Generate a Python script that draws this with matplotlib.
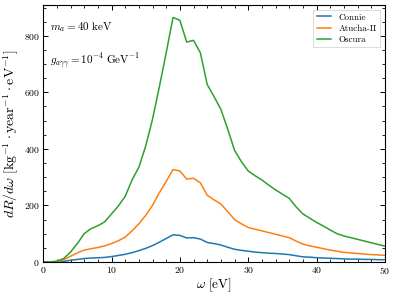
import matplotlib
matplotlib.use("Agg")
import matplotlib.pyplot as plt
from matplotlib.ticker import MultipleLocator

plt.rcParams['mathtext.fontset'] = 'cm'
plt.rcParams['font.family'] = 'serif'
plt.rcParams['font.serif'] = ['cmr10', 'DejaVu Serif']
plt.rcParams['axes.formatter.use_mathtext'] = True

omega = list(range(0, 51))
connie = [0, 0, 0, 2, 6, 9, 12, 14, 15, 16, 19, 23, 27, 33, 40, 48, 58, 70, 83, 96,
          94, 85, 86, 81, 69, 65, 60, 52, 45, 41, 38, 35, 33, 31, 30, 28, 26, 22, 18, 17,
          15, 14, 13, 12, 11, 10, 10, 9, 9, 8, 8]
atucha = [0, 0, 1, 8, 20, 32, 42, 47, 51, 57, 65, 75, 88, 110, 135, 165, 200, 245, 285, 327,
          322, 293, 296, 280, 236, 220, 205, 178, 150, 135, 122, 116, 110, 104, 98, 92, 86, 74, 63, 57,
          52, 47, 42, 38, 34, 32, 30, 28, 26, 25, 23]
oscura = [0, 0, 3, 12, 35, 65, 100, 118, 128, 142, 170, 198, 232, 290, 335, 410, 505, 620, 740, 865,
          855, 778, 784, 740, 628, 585, 540, 470, 395, 355, 322, 305, 290, 272, 255, 240, 225, 195, 170, 155,
          140, 127, 113, 100, 92, 86, 80, 74, 68, 62, 56]

fig = plt.figure(figsize=(3.96, 2.95), dpi=100)
ax = fig.add_axes([0.109, 0.112, 0.863, 0.871])
ax.plot(omega, connie, color='#1f77b4', lw=1.1, label='Connie')
ax.plot(omega, atucha, color='#ff7f0e', lw=1.1, label='Atucha-II')
ax.plot(omega, oscura, color='#2ca02c', lw=1.1, label='Oscura')

ax.set_xlim(0, 50)
ax.set_ylim(0, 909)
ax.xaxis.set_major_locator(MultipleLocator(10))
ax.xaxis.set_minor_locator(MultipleLocator(2))
ax.yaxis.set_major_locator(MultipleLocator(200))
ax.yaxis.set_minor_locator(MultipleLocator(50))
ax.tick_params(which='both', direction='in', top=True, right=True, labelsize=7)
ax.tick_params(which='major', length=3.5, width=0.7, pad=2.5)
ax.tick_params(which='minor', length=2, width=0.6)
for s in ax.spines.values():
    s.set_linewidth(0.8)

ax.set_xlabel(r'$\omega\ [\mathrm{eV}]$', fontsize=9.5, labelpad=0)
ax.set_ylabel(r'$dR/d\omega\ [\mathrm{kg}^{-1}\cdot\mathrm{year}^{-1}\cdot\mathrm{eV}^{-1}]$', fontsize=10, labelpad=2)

ax.text(0.02, 0.915, r'$m_a = 40\ \mathrm{keV}$', transform=ax.transAxes, fontsize=8, va='center')
ax.text(0.02, 0.78, r'$g_{a\gamma\gamma} = 10^{-4}\ \mathrm{GeV}^{-1}$', transform=ax.transAxes, fontsize=8, va='center')

leg = ax.legend(loc='upper right', fontsize=6.5, frameon=True, fancybox=False,
                edgecolor='#cccccc', handlelength=1.6, borderpad=0.4, labelspacing=0.3)
leg.get_frame().set_linewidth(0.6)

fig.savefig('out.png', dpi=100)
